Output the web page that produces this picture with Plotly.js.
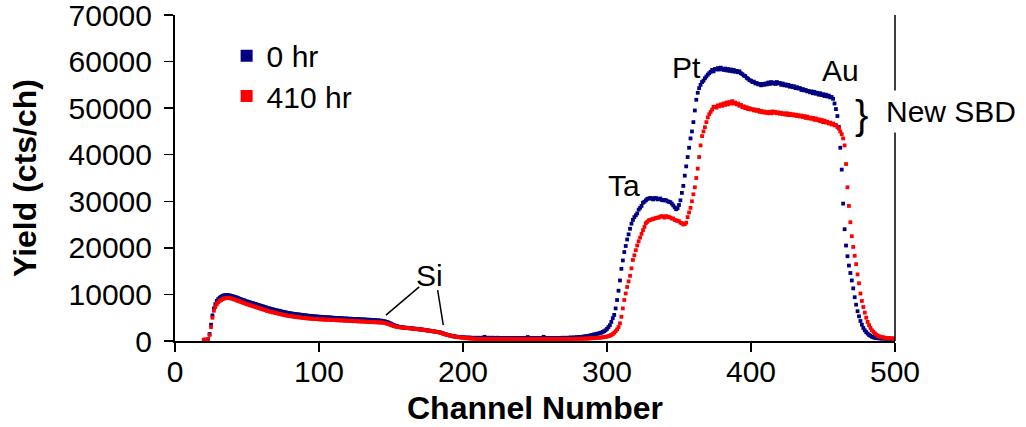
<!DOCTYPE html>
<html>
<head>
<meta charset="utf-8">
<script src="https://cdn.plot.ly/plotly-3.0.1.min.js"></script>
<style>html,body{margin:0;padding:0;background:#fff;}#chart{width:1026px;height:427px;}</style>
</head>
<body>
<div id="chart"></div>
<script>
// First channel of the spectra (channels increase by 1)
const firstChannel = 20;

// Yield (cts/ch), 0 hr, channels 20..500
const yield0hr = [
100,150,200,400,1500,3500,5500,7000,7900,8600,
9000,9300,9500,9700,9800,9850,9900,9850,9800,9700,
9650,9500,9450,9300,9200,9050,8950,8800,8750,8600,
8500,8400,8300,8200,8150,8000,7950,7800,7750,7600,
7550,7450,7300,7250,7100,7050,6950,6850,6800,6700,
6650,6550,6500,6400,6350,6250,6200,6150,6050,6000,
5950,5900,5850,5800,5750,5700,5700,5650,5600,5550,
5500,5500,5450,5400,5400,5350,5300,5300,5250,5250,
5200,5200,5150,5150,5100,5100,5100,5050,5050,5000,
5000,4950,4950,4900,4950,4900,4850,4850,4800,4850,
4800,4750,4800,4750,4700,4750,4700,4650,4700,4650,
4600,4650,4600,4550,4600,4500,4550,4500,4450,4500,
4400,4450,4350,4400,4300,4250,4200,4100,4000,3850,
3700,3550,3400,3300,3200,3100,3050,3000,2950,2900,
2850,2850,2800,2750,2750,2700,2650,2650,2600,2550,
2500,2500,2450,2400,2350,2300,2250,2200,2150,2100,
2050,2000,1950,1900,1850,1750,1650,1550,1450,1350,
1300,1200,1100,1050,1000,950,900,850,850,800,
800,750,750,700,750,700,700,650,700,650,
700,650,700,650,700,900,650,700,650,700,
650,700,650,600,700,650,600,650,600,650,
600,650,600,650,600,600,650,600,600,650,
600,600,650,600,600,850,600,600,650,600,
600,650,600,600,650,600,900,600,650,600,
650,600,650,600,650,650,600,650,650,700,
650,700,650,700,700,750,700,750,750,800,
800,850,850,900,950,1000,1050,1100,1150,1250,
1300,1400,1450,1550,1600,1700,1800,1950,2100,2300,
2600,3000,3400,4100,4900,5600,7000,8800,10800,13000,
15500,17300,19100,20400,21800,22900,24100,25200,26000,26600,
27000,27400,28200,28600,29000,29700,29900,30200,30500,30600,
30700,30600,30400,30700,30700,30400,30500,30600,30300,30200,
30300,30200,30000,29900,29800,29500,29100,28700,28300,28500,
29200,30200,31800,33300,35500,37500,39500,41500,43500,45000,
47000,49500,51800,53300,54300,55000,55600,55900,56400,56800,
57200,57500,57800,58200,57900,58400,58300,58600,58300,58700,
58400,58200,58500,58100,58400,58000,58300,57900,58200,57800,
58000,57700,57900,57500,57300,57000,56900,56500,56300,56000,
55900,55600,55700,55300,55400,55100,55200,54900,55200,55000,
55300,55100,55500,55200,55600,55300,55500,55200,55600,55300,
55400,55000,55300,54900,55100,54800,55000,54600,54800,54500,
54700,54300,54500,54200,54300,53900,54100,53800,53900,53600,
53700,53400,53600,53200,53500,53100,53300,52900,53200,52800,
53000,52600,52900,52500,52700,52300,52400,52000,51000,49800,
48300,46000,41500,36800,29500,24000,20500,18200,16200,14600,
13000,11300,9400,7800,6400,5300,4300,3500,2800,2300,
1900,1600,1300,1100,900,780,700,640,600,570,
550,540,530,520,510,500,490,480,470,460,
450];

// Yield (cts/ch), 410 hr, channels 20..500
const yield410hr = [
300,300,300,350,1300,3000,5000,6500,7300,7900,
8300,8600,8800,9000,9100,9200,9250,9250,9200,9150,
9050,8950,8850,8700,8600,8500,8350,8250,8150,8000,
7900,7800,7700,7600,7500,7400,7300,7200,7100,7000,
6900,6800,6700,6600,6450,6400,6300,6250,6150,6100,
6000,5950,5850,5800,5700,5650,5600,5500,5450,5400,
5350,5300,5250,5200,5150,5100,5100,5050,5000,4950,
4950,4900,4850,4850,4800,4800,4750,4750,4700,4700,
4650,4650,4650,4600,4600,4550,4600,4550,4550,4500,
4550,4500,4450,4500,4450,4400,4450,4400,4350,4400,
4350,4300,4350,4300,4250,4300,4250,4200,4250,4200,
4150,4200,4150,4100,4150,4100,4050,4100,4050,4000,
4050,4000,3950,4000,3950,3900,3850,3750,3650,3550,
3450,3300,3200,3100,3050,3000,2950,2900,2850,2850,
2800,2800,2750,2700,2700,2650,2600,2600,2550,2500,
2450,2450,2400,2350,2300,2250,2200,2200,2150,2100,
2050,2000,1950,1900,1800,1700,1600,1500,1400,1300,
1250,1150,1050,1000,950,900,850,800,800,750,
700,650,600,600,550,550,500,500,500,450,
450,450,400,450,450,400,450,400,450,400,
400,450,400,400,450,400,400,400,450,400,
400,400,450,400,400,400,450,400,400,400,
450,400,400,400,450,400,400,400,400,450,
400,400,400,450,400,400,400,450,400,400,
400,450,400,400,450,400,400,450,400,450,
450,400,450,450,400,450,450,450,500,450,
500,450,500,500,500,550,500,550,550,600,
600,600,650,650,700,700,750,800,850,900,
950,1050,1150,1300,1500,1780,2100,2500,3000,3800,
5200,7000,8800,10200,11600,12800,14000,15600,17400,18400,
19500,20500,21400,22200,23000,23800,24500,25300,25600,25900,
26000,26100,26200,26300,26400,26500,26500,26700,26800,26700,
26500,26800,26700,26600,26500,26300,26300,26000,25900,25800,
25700,25400,25300,25000,25100,25400,26600,27600,28600,30000,
31500,33000,35000,37000,39500,42000,44000,45000,45900,47000,
48000,48700,49200,49700,50300,50300,50100,50600,50400,50800,
50500,51000,50700,51200,50800,51300,51000,51500,51000,51200,
50800,51000,50500,50700,50200,50400,50000,50200,49800,50000,
49700,49800,49500,49700,49400,49600,49200,49400,49100,49300,
49000,49200,48900,49200,48900,49300,49000,49200,48900,49100,
48800,49000,48700,48900,48600,48900,48500,48800,48500,48700,
48400,48600,48300,48500,48200,48400,48100,48300,47900,48200,
47800,48000,47700,47900,47500,47800,47400,47600,47200,47500,
47000,47300,46900,47100,46700,46900,46500,46700,46300,46400,
45900,45600,45000,44400,43500,42000,38000,33000,29000,25500,
22500,20200,18300,16500,14300,12400,10200,8600,7300,6100,
5000,4100,3400,2800,2300,1950,1650,1350,1150,1000,
900,820,760,710,670,630,600,570,550,530,
500];

const seriesNames = ["0 hr", "410 hr"];
const xTicks = [0, 100, 200, 300, 400, 500];
const yTicks = [0, 10000, 20000, 30000, 40000, 50000, 60000, 70000];

const channels0 = yield0hr.map((_, i) => firstChannel + i);
const channels410 = yield410hr.map((_, i) => firstChannel + i);

const FONT = "Liberation Sans, Arial, sans-serif";

const traces = [
  {x: channels0, y: yield0hr, name: seriesNames[0], type: "scatter", mode: "markers", legend: "legend",
   marker: {symbol: "square", size: 3.8, color: "#000080", line: {width: 0}}},
  {x: channels410, y: yield410hr, name: seriesNames[1], type: "scatter", mode: "markers", legend: "legend2",
   marker: {symbol: "square", size: 3.8, color: "#ff0000", line: {width: 0}}}
];

const legendStyle = {xanchor: "left", yanchor: "top", bgcolor: "rgba(0,0,0,0)",
  font: {family: FONT, size: 30}, itemsizing: "constant"};

const layout = {
  width: 1026, height: 427,
  margin: {l: 175, r: 131, t: 15, b: 86, pad: 0},
  paper_bgcolor: "#fff", plot_bgcolor: "#fff",
  font: {family: FONT, size: 30, color: "#000"},
  showlegend: true,
  legend: Object.assign({x: 0.0717, y: 0.955}, legendStyle),
  legend2: Object.assign({x: 0.0717, y: 0.831}, legendStyle),
  xaxis: {range: [0, 500], tickvals: xTicks, ticks: "outside", ticklen: 9, tickwidth: 1.5,
          tickcolor: "#000", showline: true, linecolor: "#000", linewidth: 2, showgrid: false,
          zeroline: false, tickfont: {family: FONT, size: 30}, ticklabelstandoff: -6,
          title: {text: "Channel Number", font: {family: FONT, size: 32, weight: "bold"}, standoff: 10}},
  yaxis: {range: [0, 70000], tickvals: yTicks, tickformat: "d", ticks: "outside", ticklen: 9,
          tickwidth: 1.5, tickcolor: "#000", showline: true, linecolor: "#000", linewidth: 2,
          showgrid: false, zeroline: false, tickfont: {family: FONT, size: 30},
          ticklabelstandoff: 6, ticklabeloverflow: "allow",
          title: {text: "Yield (cts/ch)", font: {family: FONT, size: 32, weight: "bold"}, standoff: 22}},
  shapes: [
    {type: "line", xref: "paper", yref: "paper", x0: 1, x1: 1, y0: 0, y1: 1,
     line: {color: "#000", width: 1.5}},
    {type: "line", xref: "x", yref: "y", x0: 169.6, y0: 11630, x1: 146.5, y1: 5570,
     line: {color: "#000", width: 1.5}},
    {type: "line", xref: "x", yref: "y", x0: 182.4, y0: 10920, x1: 186.3, y1: 3430,
     line: {color: "#000", width: 1.5}}
  ],
  annotations: [
    {text: "Si", x: 177, y: 14130, xref: "x", yref: "y", showarrow: false, font: {family: FONT, size: 30}},
    {text: "Ta", x: 312, y: 33400, xref: "x", yref: "y", showarrow: false, font: {family: FONT, size: 30}},
    {text: "Pt", x: 355.5, y: 58660, xref: "x", yref: "y", showarrow: false, font: {family: FONT, size: 30}},
    {text: "Au", x: 462, y: 58000, xref: "x", yref: "y", showarrow: false, font: {family: FONT, size: 30}},
    {text: "}", x: 476.4, y: 48600, xref: "x", yref: "y", showarrow: false, font: {family: FONT, size: 40}},
    {text: "New SBD", x: 1.078, y: 0.703, xref: "paper", yref: "paper", xanchor: "center", yanchor: "middle",
     showarrow: false, bgcolor: "#fff", borderpad: 4, font: {family: FONT, size: 30}}
  ]
};

Plotly.newPlot("chart", traces, layout, {staticPlot: true, displayModeBar: false});
</script>
</body>
</html>
